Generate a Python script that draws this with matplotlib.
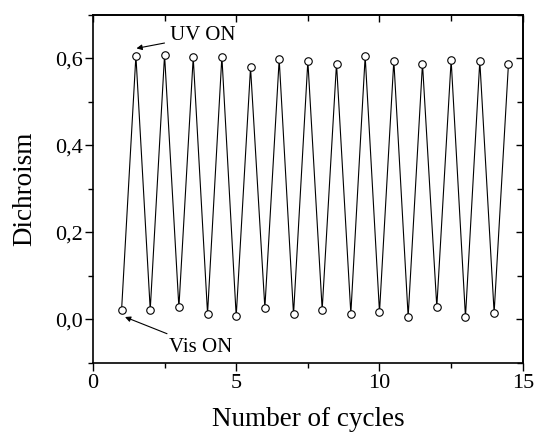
import matplotlib
matplotlib.use("Agg")
import matplotlib.pyplot as plt
from matplotlib.ticker import MultipleLocator

plt.rcParams['font.family'] = ['Liberation Serif', 'DejaVu Serif']

# Data
low_x = [1, 2, 3, 4, 5, 6, 7, 8, 9, 10, 11, 12, 13, 14]
low_y = [0.021, 0.022, 0.027, 0.013, 0.007, 0.026, 0.011, 0.022, 0.013, 0.016, 0.006, 0.028, 0.005, 0.015]
high_x = [1.5, 2.5, 3.5, 4.5, 5.5, 6.5, 7.5, 8.5, 9.5, 10.5, 11.5, 12.5, 13.5, 14.5]
high_y = [0.606, 0.608, 0.602, 0.604, 0.579, 0.598, 0.594, 0.588, 0.605, 0.595, 0.588, 0.596, 0.594, 0.587]

x = []
y = []
for a, b, c, d in zip(low_x, low_y, high_x, high_y):
    x += [a, c]
    y += [b, d]

xticks = [0, 5, 10, 15]
yticks = [0.0, 0.2, 0.4, 0.6]
ytick_labels = ["0,0", "0,2", "0,4", "0,6"]

fig = plt.figure(figsize=(5.34, 4.38), dpi=100)
ax = fig.add_axes([0.174, 0.172, 0.805, 0.794])
ax.plot(x, y, color='black', lw=0.8, marker='o', ms=5.4, mfc='white', mec='black', mew=0.8)

ax.set_xlim(0, 15)
ax.set_ylim(-0.1, 0.7)
ax.set_xticks(xticks)
ax.set_xticklabels([str(v) for v in xticks])
ax.set_yticks(yticks)
ax.set_yticklabels(ytick_labels)
ax.xaxis.set_minor_locator(MultipleLocator(2.5))
ax.yaxis.set_minor_locator(MultipleLocator(0.1))
ax.tick_params(which='major', direction='out', length=5.5, width=1.0, labelsize=16)
ax.tick_params(axis='y', which='major', pad=1.5)
ax.tick_params(axis='x', which='major', pad=3)
ax.tick_params(which='minor', direction='out', length=3.5, width=1.0)
for s in ax.spines.values():
    s.set_linewidth(1.2)

top = ax.secondary_xaxis('top')
top.set_xticks(xticks)
top.xaxis.set_minor_locator(MultipleLocator(2.5))
top.tick_params(which='both', direction='in', labeltop=False)
top.tick_params(which='major', length=5, width=1.0)
top.tick_params(which='minor', length=4, width=1.0)
top.spines['top'].set_linewidth(1.2)
right = ax.secondary_yaxis('right')
right.set_yticks(yticks)
right.yaxis.set_minor_locator(MultipleLocator(0.1))
right.tick_params(which='both', direction='in', labelright=False)
right.tick_params(which='major', length=5, width=1.0)
right.tick_params(which='minor', length=4, width=1.0)
right.spines['right'].set_linewidth(1.2)

ax.set_xlabel("Number of cycles", fontsize=19.5, labelpad=10)
ax.set_ylabel("Dichroism", fontsize=19.5, labelpad=13)

ax.annotate("UV ON", xy=(1.52, 0.623), xytext=(2.69, 0.652), fontsize=15,
            va='center', ha='left',
            arrowprops=dict(arrowstyle='-|>', color='black', lw=0.8, mutation_scale=8,
                            shrinkA=2, shrinkB=0))
ax.annotate("Vis ON", xy=(1.12, 0.005), xytext=(2.65, -0.064), fontsize=15,
            va='center', ha='left',
            arrowprops=dict(arrowstyle='-|>', color='black', lw=0.8, mutation_scale=8,
                            shrinkA=2, shrinkB=0))

fig.savefig("out.png", dpi=100)
